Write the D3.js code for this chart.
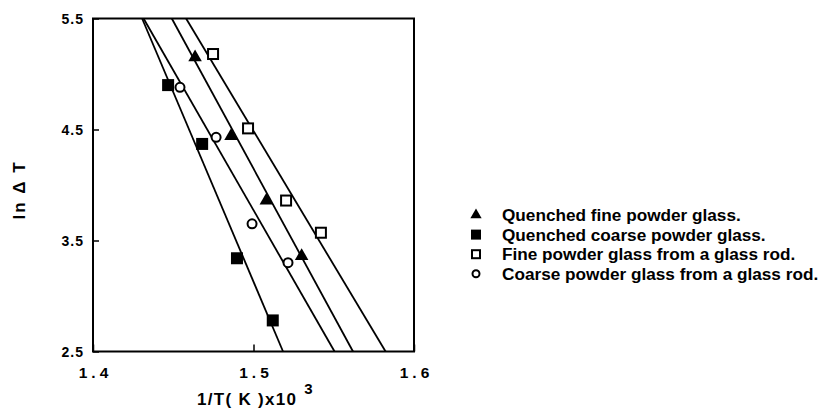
<!DOCTYPE html>
<html>
<head>
<meta charset="utf-8">
<script src="https://cdn.jsdelivr.net/npm/d3@7"></script>
<style>
  body { margin: 0; background: #fff; }
  text { font-family: "Liberation Sans", Arial, sans-serif; font-weight: bold; fill: #000; }
</style>
</head>
<body>
<div id="chart"></div>
<script>
// valores
const xTicks = [1.4, 1.5, 1.6];
const yTicks = [2.5, 3.5, 4.5, 5.5];

const quenchedFineX = [1.4636, 1.486, 1.508, 1.530];
const quenchedFineY = [5.15, 4.44, 3.86, 3.36];
const quenchedCoarseX = [1.4468, 1.468, 1.4897, 1.512];
const quenchedCoarseY = [4.90, 4.37, 3.34, 2.78];
const rodFineX = [1.4748, 1.4966, 1.5203, 1.542];
const rodFineY = [5.18, 4.51, 3.86, 3.57];
const rodCoarseX = [1.4542, 1.4767, 1.4991, 1.5215];
const rodCoarseY = [4.88, 4.43, 3.65, 3.30];

// rectas ajustadas: x en ln ΔT = 5.5 y en ln ΔT = 2.5
const fitY = [5.5, 2.5];
const quenchedFineFit = [1.4491, 1.5620];
const quenchedCoarseFit = [1.4306, 1.5184];
const rodFineFit = [1.4580, 1.5823];
const rodCoarseFit = [1.4315, 1.5505];

const legendLabels = [
  "Quenched fine powder glass.",
  "Quenched coarse powder glass.",
  "Fine powder glass from a glass rod.",
  "Coarse powder glass from a glass rod."
];

const width = 819, height = 410;
const marginLeft = 93, marginRight = 405, marginTop = 18.5, marginBottom = 58.5;

const svg = d3.select("#chart").append("svg")
  .attr("width", width)
  .attr("height", height)
  .attr("viewBox", [0, 0, width, height]);

const x = d3.scaleLinear().domain([1.4, 1.6]).range([marginLeft, width - marginRight]);
const y = d3.scaleLinear().domain([2.5, 5.5]).range([height - marginBottom, marginTop]);

const series = [
  { xs: quenchedFineX, ys: quenchedFineY, fit: quenchedFineFit, shape: "tri" },
  { xs: quenchedCoarseX, ys: quenchedCoarseY, fit: quenchedCoarseFit, shape: "fsq" },
  { xs: rodFineX, ys: rodFineY, fit: rodFineFit, shape: "osq" },
  { xs: rodCoarseX, ys: rodCoarseY, fit: rodCoarseFit, shape: "ocirc" }
];

svg.append("clipPath").attr("id", "clip")
  .append("rect")
  .attr("x", x(1.4)).attr("y", y(5.5))
  .attr("width", x(1.6) - x(1.4)).attr("height", y(2.5) - y(5.5));

// rectas
const line = d3.line().x(d => x(d[0])).y(d => y(d[1]));
svg.append("g").attr("clip-path", "url(#clip)")
  .selectAll("path").data(series).join("path")
  .attr("d", s => line(s.fit.map((v, i) => [v, fitY[i]])))
  .attr("fill", "none").attr("stroke", "#000").attr("stroke-width", 1.8);

// marcadores
function drawMarker(g, shape, size) {
  if (shape === "tri") {
    g.append("path").attr("d", d3.symbol(d3.symbolTriangle, size * size * 0.55)())
      .attr("fill", "#000");
  } else if (shape === "fsq") {
    g.append("rect").attr("x", -size / 2).attr("y", -size / 2)
      .attr("width", size).attr("height", size).attr("fill", "#000");
  } else if (shape === "osq") {
    g.append("rect").attr("x", -size / 2 + 1).attr("y", -size / 2 + 1)
      .attr("width", size - 2).attr("height", size - 2)
      .attr("fill", "#fff").attr("stroke", "#000").attr("stroke-width", 2);
  } else {
    g.append("circle").attr("r", size / 2 - 1)
      .attr("fill", "#fff").attr("stroke", "#000").attr("stroke-width", 2);
  }
}

series.forEach(s => {
  s.xs.forEach((v, i) => {
    const g = svg.append("g").attr("transform", `translate(${x(v)},${y(s.ys[i])})`);
    drawMarker(g, s.shape, s.shape === "ocirc" ? 11 : 12);
  });
});

// marco
svg.append("rect")
  .attr("x", x(1.4)).attr("y", y(5.5))
  .attr("width", x(1.6) - x(1.4)).attr("height", y(2.5) - y(5.5))
  .attr("fill", "none").attr("stroke", "#000").attr("stroke-width", 2);

// eje Y
svg.append("g")
  .attr("transform", `translate(${marginLeft},0)`)
  .call(d3.axisLeft(y).tickValues(yTicks).tickSize(-6).tickPadding(9).tickFormat(d3.format(".1f")))
  .call(g => g.select(".domain").remove())
  .call(g => g.selectAll(".tick line").attr("stroke", "#000").attr("stroke-width", 1.5))
  .call(g => g.selectAll(".tick text")
    .attr("font-size", 14).attr("letter-spacing", 1).attr("dy", "0.35em")
    .attr("font-family", "Liberation Sans, Arial, sans-serif"));

// eje X
svg.append("g")
  .attr("transform", `translate(0,${height - marginBottom})`)
  .call(d3.axisBottom(x).tickValues(xTicks).tickSize(-7).tickPadding(15).tickFormat(d3.format(".1f")))
  .call(g => g.select(".domain").remove())
  .call(g => g.selectAll(".tick line").attr("stroke", "#000").attr("stroke-width", 1.5))
  .call(g => g.selectAll(".tick text")
    .attr("font-size", 15.5).attr("letter-spacing", 4).attr("dx", 2)
    .attr("font-family", "Liberation Sans, Arial, sans-serif"));

// títulos
const xt = svg.append("text")
  .attr("x", 197).attr("y", 405)
  .attr("font-size", 17).attr("letter-spacing", 1.3);
xt.append("tspan").text("1/T( K )x10");
xt.append("tspan").attr("font-size", 15).attr("dx", 7).attr("dy", -11).text("3");

svg.append("text")
  .attr("transform", "translate(25,190) rotate(-90)")
  .attr("text-anchor", "middle")
  .attr("font-size", 17).attr("letter-spacing", 2)
  .text("ln Δ T");

// leyenda
const legend = svg.append("g").attr("transform", "translate(476,215)");
series.forEach((s, i) => {
  const g = legend.append("g").attr("transform", `translate(0,${i * 19.6})`);
  drawMarker(g, s.shape, s.shape === "ocirc" ? 9 : 10);
  g.append("text").attr("x", 26).attr("dy", "0.36em")
    .attr("font-size", 17.2).text(legendLabels[i]);
});
</script>
</body>
</html>
